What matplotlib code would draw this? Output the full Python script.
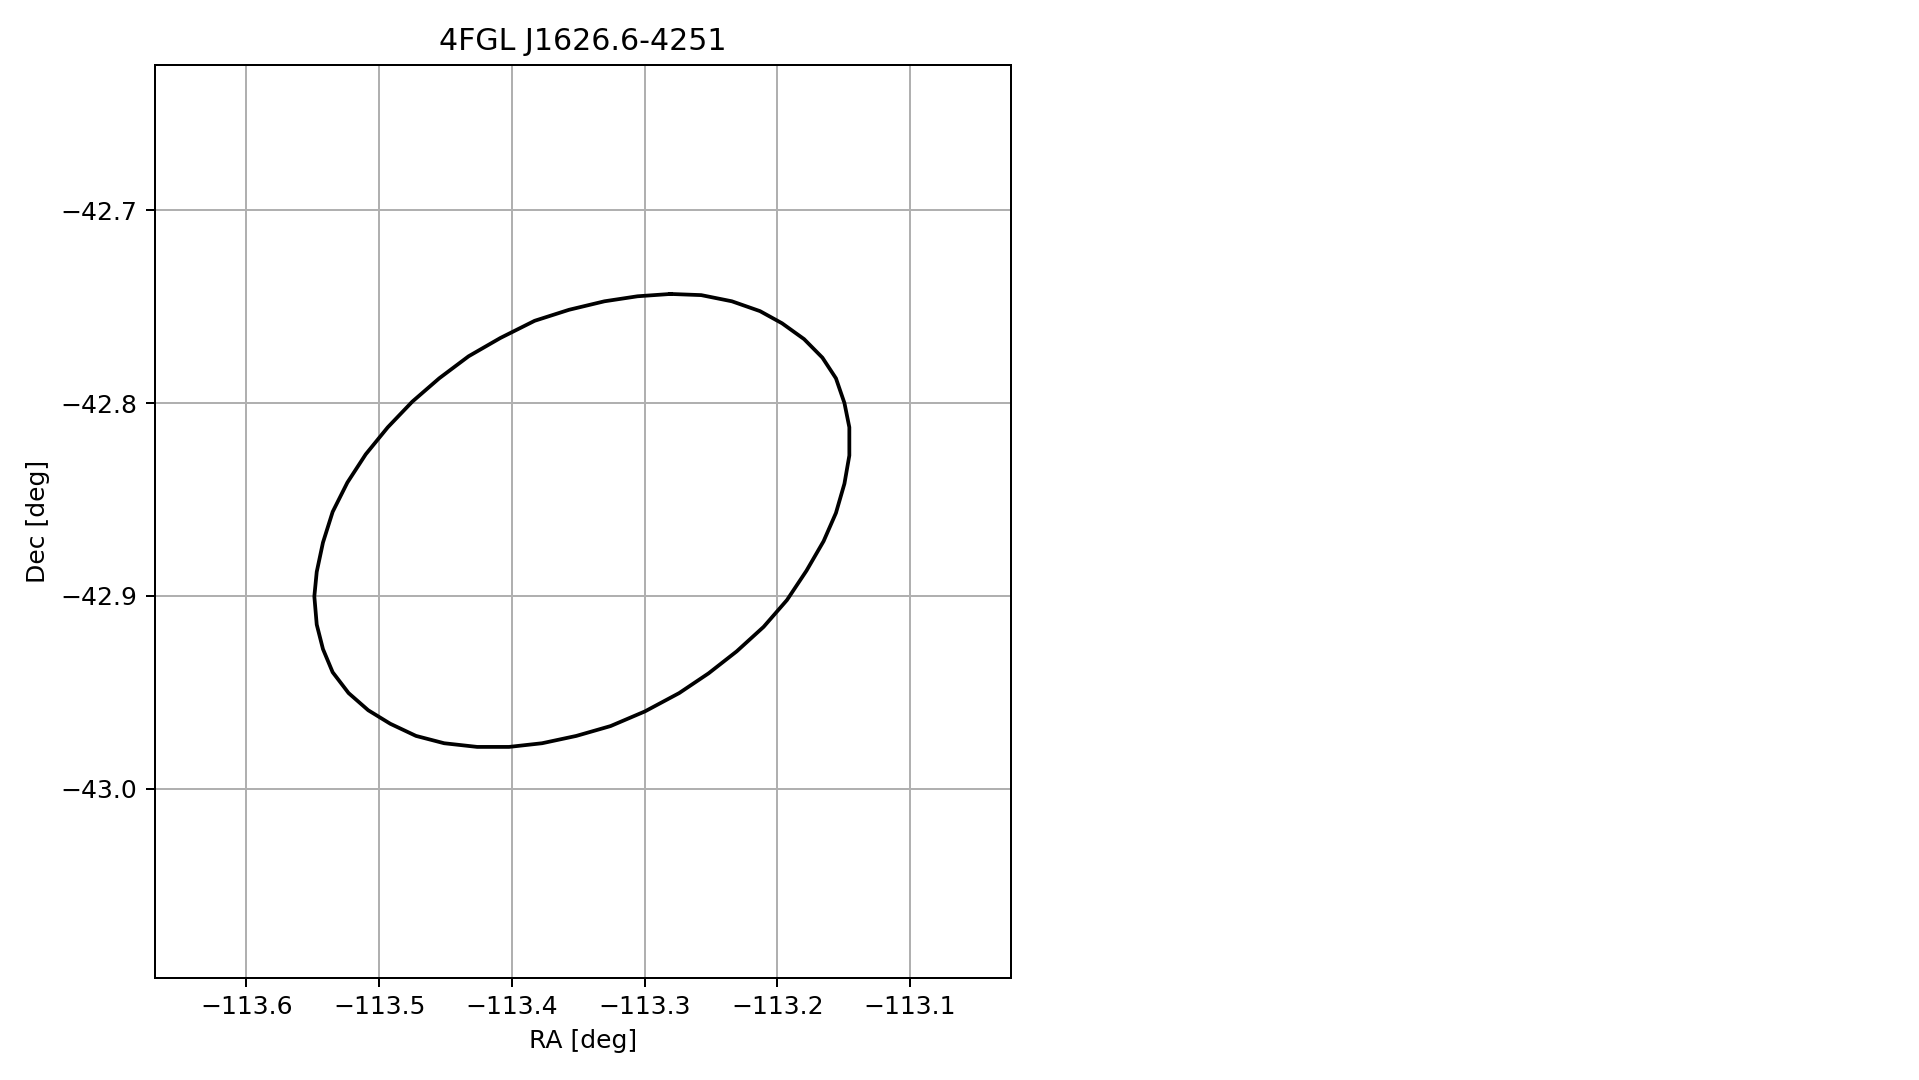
import matplotlib
matplotlib.use('Agg')                      # headless backend
import matplotlib.pyplot as plt
import numpy as np

# 95% localisation contour of the source (deg)
source_name = "4FGL J1626.6-4251"

ra_contour = [
    -113.2804, -113.2573, -113.2342, -113.2130, -113.1964, -113.1798, -113.1660,
    -113.1558, -113.1494, -113.1457, -113.1457, -113.1494, -113.1558, -113.1651,
    -113.1780, -113.1927, -113.2103, -113.2306, -113.2518, -113.2739, -113.2997,
    -113.3256, -113.3514, -113.3772, -113.4021, -113.4261, -113.4510, -113.4722,
    -113.4916, -113.5082, -113.5230, -113.5350, -113.5423, -113.5470, -113.5488,
    -113.5470, -113.5423, -113.5350, -113.5239, -113.5101, -113.4935, -113.4750,
    -113.4547, -113.4326, -113.4086, -113.3828, -113.3569, -113.3302, -113.3053,
    -113.2804,
]
dec_contour = [
    -42.7435, -42.7441, -42.7473, -42.7524, -42.7587, -42.7669, -42.7765,
    -42.7872, -42.8000, -42.8126, -42.8272, -42.8418, -42.8570, -42.8716,
    -42.8869, -42.9021, -42.9160, -42.9287, -42.9401, -42.9503, -42.9598,
    -42.9674, -42.9725, -42.9763, -42.9782, -42.9782, -42.9763, -42.9725,
    -42.9662, -42.9592, -42.9503, -42.9395, -42.9275, -42.9148, -42.9002,
    -42.8875, -42.8723, -42.8564, -42.8412, -42.8266, -42.8126, -42.7993,
    -42.7872, -42.7758, -42.7663, -42.7574, -42.7517, -42.7473, -42.7447,
    -42.7435,
]

ra_ticks = [-113.6, -113.5, -113.4, -113.3, -113.2, -113.1]
dec_ticks = [-42.7, -42.8, -42.9, -43.0]
ra_range = (-113.6691, -113.0241)
dec_range = (-43.0978, -42.6247)


def main():
    fig = plt.figure(figsize=(1919 / 180, 6.0), dpi=180)
    ax = fig.add_axes([0.0806, 0.0947, 0.4461, 0.8454])

    ax.plot(np.array(ra_contour), np.array(dec_contour), color='k')

    ax.set_xticks(ra_ticks)
    ax.set_yticks(dec_ticks)
    ax.set_xlim(ra_range)
    ax.set_ylim(dec_range)
    ax.grid(True)

    ax.set_xlabel('RA [deg]')
    ax.set_ylabel('Dec [deg]')
    ax.set_title(source_name)

    fig.savefig('out.png', dpi=180)


if __name__ == '__main__':
    main()
